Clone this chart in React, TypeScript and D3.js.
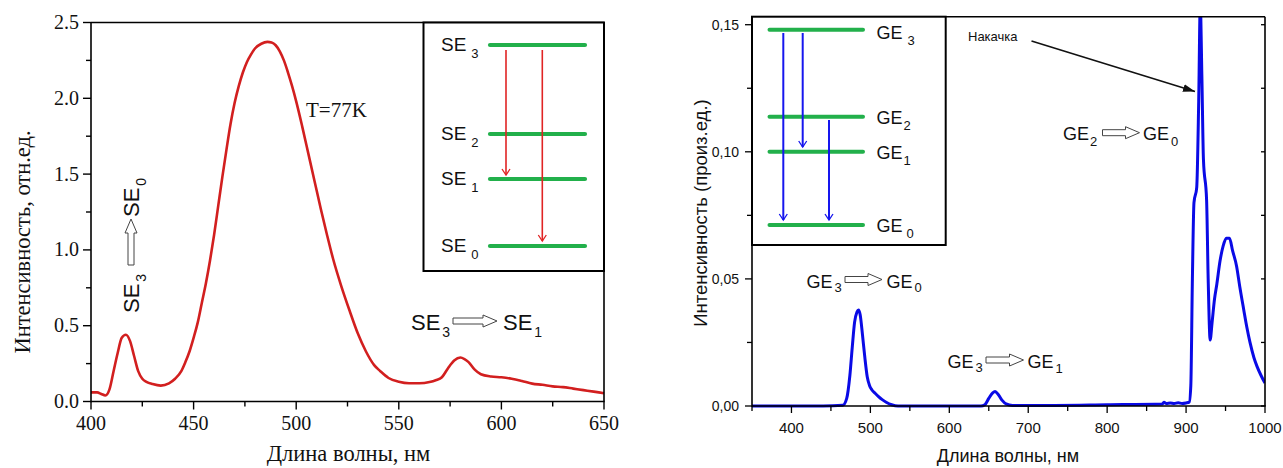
import React from 'react';
import * as d3 from 'd3';

// ---------- Left chart data (SE, T=77K) ----------
const leftWavelength = [
  400, 403, 405, 407, 409, 411, 413, 415, 417, 419, 421, 423, 425, 427, 430, 434, 438, 441,
  444, 446, 448, 450, 452, 454, 456, 458, 460, 462, 464, 466, 468, 470, 472, 474, 476, 478,
  480, 483, 486, 488, 490, 492, 494, 496, 498, 500, 503, 506, 509, 512, 515, 518, 522, 526,
  530, 534, 538, 541, 545, 550, 555, 560, 565, 568, 571, 574, 577, 580, 582, 584, 587, 590,
  595, 600, 605, 610, 615, 620, 625, 630, 635, 640, 645, 650,
];
const leftIntensity = [
  0.06, 0.06, 0.05, 0.04, 0.08, 0.2, 0.32, 0.42, 0.44, 0.4, 0.3, 0.2, 0.15, 0.13, 0.115, 0.105, 0.12, 0.15,
  0.2, 0.26, 0.33, 0.42, 0.52, 0.65, 0.78, 0.93, 1.1, 1.29, 1.48, 1.66, 1.83, 1.97, 2.08, 2.17, 2.24, 2.29,
  2.33, 2.36, 2.372, 2.368, 2.35, 2.31, 2.25, 2.17, 2.08, 1.98, 1.81, 1.63, 1.45, 1.27, 1.1, 0.94, 0.76, 0.6,
  0.45, 0.33, 0.24, 0.2, 0.155, 0.13, 0.12, 0.12, 0.128, 0.14, 0.16, 0.22, 0.27, 0.29, 0.28, 0.26, 0.21, 0.18,
  0.165, 0.16, 0.15, 0.135, 0.118, 0.11, 0.1, 0.095, 0.085, 0.075, 0.065, 0.055,
];
const leftXTicks = [400, 450, 500, 550, 600, 650];
const leftXMinor = [425, 475, 525, 575, 625];
const leftYTicks = [0, 0.5, 1.0, 1.5, 2.0, 2.5];
const leftYMinor = [0.25, 0.75, 1.25, 1.75, 2.25];
const leftLevels = [
  { name: 'SE', sub: '3', y: 45 },
  { name: 'SE', sub: '2', y: 134 },
  { name: 'SE', sub: '1', y: 179 },
  { name: 'SE', sub: '0', y: 246 },
];

// ---------- Right chart data (GE) ----------
const rightWavelength = [
  350, 440, 465, 470, 474, 477, 480, 483, 485, 487, 490, 493, 496, 499, 502, 506, 510, 515,
  520, 527, 535, 640, 645, 650, 655, 658, 662, 667, 672, 680, 700, 800, 870, 872, 875, 880,
  885, 890, 895, 900, 904, 906, 908, 910, 913.5, 916, 918, 920, 922, 926, 928, 930.5, 933, 936,
  939, 943, 947, 951, 955, 959, 964, 968, 973, 977, 981, 986, 990, 995, 1000,
];
const rightIntensity = [
  0, 0, 0.0003, 0.003, 0.012, 0.023, 0.033, 0.037, 0.0378, 0.036, 0.028, 0.019, 0.0115, 0.008, 0.0063, 0.005, 0.0038, 0.0025,
  0.0015, 0.0005, 0, 0, 0.0005, 0.003, 0.0052, 0.0057, 0.0045, 0.0022, 0.0008, 0.0002, 0.0002, 0.0005, 0.0008, 0.0015, 0.001, 0.0012,
  0.001, 0.0013, 0.001, 0.0012, 0.0015, 0.008, 0.05, 0.08, 0.086, 0.12, 0.158, 0.13, 0.097, 0.081, 0.05, 0.026, 0.033, 0.042,
  0.048, 0.057, 0.063, 0.066, 0.066, 0.061, 0.055, 0.047, 0.038, 0.031, 0.025, 0.019, 0.0155, 0.012, 0.009,
];
const rightXTicks = [400, 500, 600, 700, 800, 900, 1000];
const rightXMinor = [350, 450, 550, 650, 750, 850, 950];
const rightYTicks = [0, 0.05, 0.1, 0.15];
const rightYMinor = [0.025, 0.075, 0.125];
const rightLevels = [
  { name: 'GE', sub: '3', y: 29.7, gap: 5, off: 9.5 },
  { name: 'GE', sub: '2', y: 116.7, gap: 1, off: 7 },
  { name: 'GE', sub: '1', y: 151.7, gap: 1, off: 7 },
  { name: 'GE', sub: '0', y: 225, gap: 4, off: 7 },
];

const SERIF = '"Liberation Serif", "Times New Roman", serif';
const SANS = '"Liberation Sans", Arial, sans-serif';

function hollowArrow(x0: number, x1: number, cy: number) {
  const sh = 3, hh = 6, hl = 14;
  const xb = x1 - hl;
  return `M${x0},${cy - sh} L${xb},${cy - sh} L${xb},${cy - hh} L${x1},${cy} L${xb},${cy + hh} L${xb},${cy + sh} L${x0},${cy + sh} Z`;
}

function SubText(props: {
  x: number; y: number; main: string; sub: string; size: number; subSize: number;
  gap?: number; dy?: number; font?: string; fill?: string; subFill?: string;
}) {
  const { x, y, main, sub, size, subSize, gap = 1, dy = 6, font = SANS, fill = '#111', subFill } = props;
  return (
    <text x={x} y={y} fontFamily={font} fontSize={size} fill={fill}>
      {main}
      <tspan dx={gap} dy={dy} fontSize={subSize} fill={subFill || fill}>{sub}</tspan>
    </text>
  );
}

function vArrow(x: number, y0: number, y1: number, color: string, w: number) {
  return (
    <g key={`${x}-${y0}-${y1}`} stroke={color} strokeWidth={w} fill="none">
      <line x1={x} y1={y0} x2={x} y2={y1} />
      <polyline points={`${x - 4},${y1 - 6} ${x},${y1} ${x + 4},${y1 - 6}`} strokeWidth={1.3} />
    </g>
  );
}

export default function App() {
  const lx = d3.scaleLinear().domain([400, 650]).range([91, 604]);
  const ly = d3.scaleLinear().domain([0, 2.5]).range([401.5, 22.5]);
  const leftLine = d3
    .line<number>()
    .x((_, i) => lx(leftWavelength[i]))
    .y((d) => ly(d))
    .curve(d3.curveMonotoneX)(leftIntensity) as string;

  const rx = d3.scaleLinear().domain([350, 1000]).range([752, 1265]);
  const ry = d3.scaleLinear().domain([0, 0.15315]).range([406, 16.7]);
  const rightLine = d3
    .line<number>()
    .x((_, i) => rx(rightWavelength[i]))
    .y((d) => ry(d))
    .curve(d3.curveMonotoneX)(rightIntensity) as string;

  const fmtL = d3.format('.1f');
  const fmtR = (v: number) => d3.format('.2f')(v).replace('.', ',');

  const lTop = ly(2.5), lBot = ly(0), lLeft = lx(400), lRight = lx(650);
  const rTop = ry(0.15315), rBot = ry(0), rLeft = rx(350), rRight = rx(1000);

  return (
    <svg
      width={1283}
      height={468}
      style={{ position: 'absolute', left: 0, top: 0, background: '#fff' }}
      xmlns="http://www.w3.org/2000/svg"
    >
      <rect x={0} y={0} width={1283} height={468} fill="#fff" />
      <defs>
        <clipPath id="rclip">
          <rect x={rLeft} y={rTop} width={rRight - rLeft} height={rBot - rTop + 2} />
        </clipPath>
        <marker id="blackHead" viewBox="0 0 12 8" refX={12} refY={4} markerWidth={12} markerHeight={8} markerUnits="userSpaceOnUse" orient="auto">
          <path d="M0,0 L12,4 L0,8 Z" fill="#111" />
        </marker>
      </defs>

      {/* ================= LEFT CHART ================= */}
      <g>
        <path d={leftLine} fill="none" stroke="#d21f1f" strokeWidth={2.6} strokeLinejoin="round" />

        <g stroke="#000" strokeWidth={1.6} fill="none">
          <line x1={lLeft} y1={lTop} x2={lRight} y2={lTop} />
          <line x1={lRight} y1={lTop} x2={lRight} y2={lBot} />
          <line x1={lLeft} y1={lBot} x2={lRight + 0.8} y2={lBot} />
          <line x1={lLeft} y1={lTop} x2={lLeft} y2={lBot + 0.8} />
        </g>

        <g stroke="#000" strokeWidth={1.4}>
          {leftXTicks.map((t) => (
            <line key={`lxt${t}`} x1={lx(t)} x2={lx(t)} y1={lBot} y2={lBot + 8} />
          ))}
          {leftXMinor.map((t) => (
            <line key={`lxm${t}`} x1={lx(t)} x2={lx(t)} y1={lBot} y2={lBot + 5} />
          ))}
          {leftYTicks.map((t) => (
            <line key={`lyt${t}`} x1={lLeft - 8} x2={lLeft} y1={ly(t)} y2={ly(t)} />
          ))}
          {leftYMinor.map((t) => (
            <line key={`lym${t}`} x1={lLeft - 5} x2={lLeft} y1={ly(t)} y2={ly(t)} />
          ))}
        </g>
        {leftXTicks.map((t) => (
          <text key={`lxl${t}`} x={lx(t)} y={430} textAnchor="middle" fontFamily={SERIF} fontSize={20} fill="#111">
            {t}
          </text>
        ))}
        {leftYTicks.map((t) => (
          <text key={`lyl${t}`} x={79} y={ly(t) + 6.5} textAnchor="end" fontFamily={SERIF} fontSize={20} fill="#111">
            {fmtL(t)}
          </text>
        ))}

        <text x={348.5} y={461} textAnchor="middle" fontFamily={SERIF} fontSize={22.5} fill="#111">
          Длина волны, нм
        </text>
        <text
          transform={`translate(30, 242) rotate(-90)`}
          textAnchor="middle"
          fontFamily={SERIF}
          fontSize={22.5}
          fill="#111"
        >
          Интенсивность, отн.ед.
        </text>

        <text x={306} y={117} fontFamily={SERIF} fontSize={21} fill="#111">T=77K</text>

        <SubText x={411} y={330} main="SE" sub="3" size={22} subSize={14} gap={2} dy={7} />
        <path d={hollowArrow(453, 497, 321)} fill="#fff" stroke="#444" strokeWidth={1} />
        <SubText x={503} y={330} main="SE" sub="1" size={22} subSize={14} gap={2} dy={7} />

        <g transform="translate(138.5, 313) rotate(-90)">
          <SubText x={0} y={0} main="SE" sub="3" size={22} subSize={14} gap={2} dy={7} />
          <path d={hollowArrow(48, 94, -7.5)} fill="#fff" stroke="#444" strokeWidth={1} />
          <SubText x={96} y={0} main="SE" sub="0" size={22} subSize={14} gap={2} dy={7} />
        </g>

        <rect x={423.5} y={lTop} width={lRight - 423.5} height={271 - lTop} fill="#fff" stroke="#000" strokeWidth={2} />
        {leftLevels.map((l) => (
          <g key={`ll${l.sub}`}>
            <line x1={490} x2={585} y1={l.y} y2={l.y} stroke="#22b04b" strokeWidth={4.2} strokeLinecap="round" />
            <SubText x={441} y={l.y + 6} main="SE" sub={l.sub} size={19} subSize={13} gap={5} dy={7} />
          </g>
        ))}
        {vArrow(506, 50, 175, '#e02424', 1.6)}
        {vArrow(542.3, 50, 241, '#e02424', 1.6)}
      </g>

      {/* ================= RIGHT CHART ================= */}
      <g>
        <path
          d={rightLine}
          fill="none"
          stroke="#0a0ae6"
          strokeWidth={3}
          strokeLinejoin="round"
          clipPath="url(#rclip)"
        />

        <g stroke="#000" strokeWidth={1.6} fill="none">
          <line x1={rLeft} y1={rTop} x2={rRight} y2={rTop} />
          <line x1={rRight} y1={rTop} x2={rRight} y2={rBot} />
          <line x1={rLeft} y1={rBot} x2={rRight + 0.8} y2={rBot} />
          <line x1={rLeft} y1={rTop} x2={rLeft} y2={rBot + 0.8} />
        </g>

        <g stroke="#000" strokeWidth={1.3}>
          {rightXTicks.map((t) => (
            <line key={`rxt${t}`} x1={rx(t)} x2={rx(t)} y1={rBot} y2={rBot + 7} />
          ))}
          {rightXMinor.map((t) => (
            <line key={`rxm${t}`} x1={rx(t)} x2={rx(t)} y1={rBot} y2={rBot + 5} />
          ))}
          {rightYTicks.map((t) => (
            <line key={`ryt${t}`} x1={rLeft - 7} x2={rLeft} y1={ry(t)} y2={ry(t)} />
          ))}
          {rightYMinor.map((t) => (
            <line key={`rym${t}`} x1={rLeft - 5} x2={rLeft} y1={ry(t)} y2={ry(t)} />
          ))}
          {[...rightYTicks, ...rightYMinor].map((t) => (
            <line key={`ryr${t}`} x1={rRight - 4} x2={rRight} y1={ry(t)} y2={ry(t)} />
          ))}
        </g>
        {rightXTicks.map((t) => (
          <text key={`rxl${t}`} x={rx(t)} y={433} textAnchor="middle" fontFamily={SANS} fontSize={15} fill="#111">
            {t}
          </text>
        ))}
        {rightYTicks.map((t) => (
          <text key={`ryl${t}`} x={739} y={ry(t) + 5} textAnchor="end" fontFamily={SANS} fontSize={14} fill="#111">
            {fmtR(t)}
          </text>
        ))}

        <text x={1008} y={462} textAnchor="middle" fontFamily={SANS} fontSize={18} fill="#111">
          Длина волны, нм
        </text>
        <text
          transform={`translate(707, 213) rotate(-90)`}
          textAnchor="middle"
          fontFamily={SANS}
          fontSize={18.5}
          fill="#111"
        >
          Интенсивность (произ.ед.)
        </text>

        <SubText x={806.5} y={288} main="GE" sub="3" size={18} subSize={13} gap={2} dy={4} />
        <path d={hollowArrow(845, 882, 279.5)} fill="#fff" stroke="#444" strokeWidth={1} />
        <SubText x={886.5} y={288} main="GE" sub="0" size={18} subSize={13} gap={2} dy={4} />

        <SubText x={947.5} y={368} main="GE" sub="3" size={18} subSize={13} gap={2} dy={4} />
        <path d={hollowArrow(986, 1023.5, 360)} fill="#fff" stroke="#444" strokeWidth={1} />
        <SubText x={1027.5} y={368} main="GE" sub="1" size={18} subSize={13} gap={2} dy={5} />

        <SubText x={1063} y={140} main="GE" sub="2" size={18} subSize={13} gap={1} dy={6} />
        <path d={hollowArrow(1102.5, 1139.5, 132.7)} fill="#fff" stroke="#444" strokeWidth={1} />
        <SubText x={1143} y={140} main="GE" sub="0" size={18} subSize={13} gap={2} dy={6} />

        <text x={968} y={41} fontFamily={SANS} fontSize={13} fill="#111">Накачка</text>
        <line x1={1031.5} y1={41} x2={1195} y2={91.5} stroke="#111" strokeWidth={1.6} markerEnd="url(#blackHead)" />

        <rect x={rLeft} y={rTop} width={945.7 - rLeft} height={245 - rTop} fill="#fff" stroke="#000" strokeWidth={2} />
        {rightLevels.map((l) => (
          <g key={`rl${l.sub}`}>
            <line x1={769.5} x2={863} y1={l.y} y2={l.y} stroke="#22b04b" strokeWidth={4} strokeLinecap="round" />
            <SubText x={876.5} y={l.y + l.off} main="GE" sub={l.sub} size={18} subSize={13} gap={l.gap} dy={6} />
          </g>
        ))}
        {vArrow(783.3, 33, 220, '#1616ee', 2)}
        {vArrow(802.7, 33, 147, '#1616ee', 2)}
        {vArrow(829, 120, 220, '#1616ee', 2)}
      </g>
    </svg>
  );
}
